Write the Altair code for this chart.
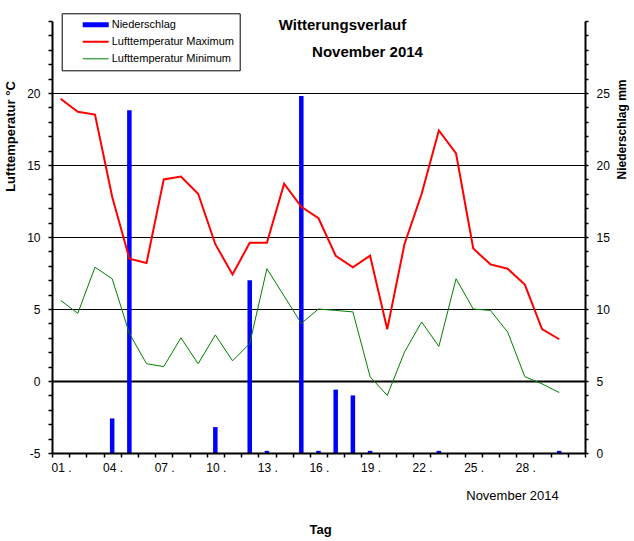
import altair as alt
import pandas as pd

# ---------------- data ----------------
days = list(range(1, 31))
t_max = [19.6, 18.7, 18.5, 12.8, 8.5, 8.2, 14.0, 14.2, 13.0, 9.5,
         7.4, 9.6, 9.6, 13.7, 12.1, 11.3, 8.7, 7.9, 8.7, 3.6,
         9.5, 13.0, 17.4, 15.8, 9.2, 8.1, 7.8, 6.7, 3.6, 2.9]
t_min = [5.6, 4.7, 7.9, 7.1, 3.3, 1.2, 1.0, 3.0, 1.2, 3.2,
         1.4, 2.6, 7.8, 5.9, 4.0, 5.0, 4.9, 4.8, 0.3, -1.0,
         2.0, 4.1, 2.4, 7.1, 5.0, 4.9, 3.4, 0.3, -0.2, -0.8]
precip = [0, 0, 0, 2.4, 23.8, 0, 0, 0, 0, 1.8,
          0, 12.0, 0.15, 0, 24.8, 0.15, 4.4, 4.0, 0.15, 0,
          0, 0, 0.15, 0, 0, 0, 0, 0, 0, 0.15]

series_names = ["Niederschlag", "Lufttemperatur Maximum", "Lufttemperatur Minimum"]
series_colors = ["#0000FF", "#FF0000", "#008000"]
series_widths = [5, 2, 1]

temp_ticks = list(range(-5, 26))
mm_ticks = list(range(0, 31))
day_ticks = list(range(0, 32))

FONT = "Liberation Sans"

df_bar = pd.DataFrame({"Tag": days, "mm": precip})
df_lines = pd.DataFrame({
    "Tag": days + days,
    "value": t_max + t_min,
    "series": [series_names[1]] * len(days) + [series_names[2]] * len(days),
})

xscale = alt.Scale(domain=[0, 31], nice=False, zero=False, padding=0)

x_axis = alt.Axis(
    values=day_ticks,
    labelExpr="(datum.value % 3 == 0 && datum.value < 30) ? ((datum.value < 9 ? '0' : '') + (datum.value + 1) + ' .') : ''",
    labelAlign="left", labelBaseline="top", labelPadding=5, labelOffset=-1,
    labelFont=FONT, labelFontSize=12, labelColor="black",
    labelOverlap=False, labelFlush=False, labelBound=False,
    tickSize=4, tickWidth=1.5, tickColor="black",
    domainColor="black", domainWidth=2, grid=False,
    title="Tag", titleX=268, titleY=76, titleAlign="center", titleBaseline="middle",
    titleFont=FONT, titleFontSize=13, titleFontWeight="bold", titleColor="black",
    zindex=1,
)

yl_axis = alt.Axis(
    orient="left", values=temp_ticks,
    labelExpr="(datum.value % 5 == 0 && datum.value < 25) ? ('' + datum.value) : ''",
    labelPadding=8, labelFont=FONT, labelFontSize=12, labelColor="black",
    labelOverlap=False, labelBound=False, labelFlush=False,
    tickSize=4, tickWidth=1.5, tickColor="black",
    domainColor="black", domainWidth=2,
    grid=True, gridColor="black",
    gridOpacity={"condition": {"test": "datum.value % 5 == 0 && datum.value > -5 && datum.value < 25", "value": 1}, "value": 0},
    gridWidth={"condition": {"test": "datum.value == 0", "value": 2}, "value": 1},
    title="Lufttemperatur °C", titleAngle=270, titleX=-42, titleY=115,
    titleAlign="center", titleBaseline="middle",
    titleFont=FONT, titleFontSize=13, titleFontWeight="bold", titleColor="black",
)

yr_axis = alt.Axis(
    orient="right", values=mm_ticks,
    labelExpr="(datum.value % 5 == 0 && datum.value < 30) ? ('' + datum.value) : ''",
    labelPadding=8, labelFont=FONT, labelFontSize=12, labelColor="black",
    labelOverlap=False, labelBound=False, labelFlush=False,
    tickSize=3, tickWidth=1.5, tickColor="black",
    domainColor="black", domainWidth=2, grid=False,
    title="Niederschlag  mm", titleAngle=270, titleX=36, titleY=108,
    titleAlign="center", titleBaseline="middle",
    titleFont=FONT, titleFontSize=12, titleFontWeight="bold", titleColor="black",
)

leg = alt.Legend(
    title=None, orient="none", legendX=9.7, legendY=-7.7, direction="vertical",
    symbolType="M-2,0H2", symbolSize=169, clipHeight=13,
    symbolOffset=20, labelOffset=7,
    labelFont=FONT, labelFontSize=11, labelColor="black",
    padding=5, rowPadding=4,
    strokeColor="black", fillColor="white", cornerRadius=0,
)

bars = alt.Chart(df_bar).transform_calculate(
    xpos="datum.Tag - 0.5"
).mark_bar(color="#0000FF", size=4.5).encode(
    x=alt.X("xpos:Q", scale=xscale, axis=x_axis),
    y=alt.Y("mm:Q", scale=alt.Scale(domain=[0, 30], nice=False, zero=True), axis=yr_axis),
    y2=alt.datum(0),
)

lines = alt.Chart(df_lines).transform_calculate(
    xpos="datum.Tag - 0.5"
).mark_line().encode(
    x=alt.X("xpos:Q", scale=xscale, axis=x_axis),
    y=alt.Y("value:Q", scale=alt.Scale(domain=[-5, 25], nice=False, zero=False), axis=yl_axis),
    color=alt.Color("series:N", scale=alt.Scale(domain=series_names, range=series_colors), legend=leg),
    strokeWidth=alt.StrokeWidth("series:N", scale=alt.Scale(type="ordinal", domain=series_names, range=series_widths), legend=leg),
)


def label(txt, x, y, size, weight="normal"):
    return alt.Chart(alt.Data(values=[{}])).mark_text(
        font=FONT, fontSize=size, fontWeight=weight, align="center",
        baseline="middle", color="black",
    ).encode(x=alt.value(x), y=alt.value(y), text=alt.value(txt))


t1 = label("Witterungsverlauf", 290.5, 4, 15, "bold")
t2 = label("November 2014", 315.5, 30.7, 15, "bold")
t3 = label("November 2014", 460.5, 475, 13)

chart = alt.layer(bars, lines, t1, t2, t3).resolve_scale(y="independent").properties(
    width=533, height=432,
    autosize=alt.AutoSizeParams(type="none"),
    padding={"left": 52, "top": 21, "right": 49, "bottom": 88},
    background="white",
).configure_view(stroke=None)

chart.save("out.html", embed_options={"renderer": "svg", "actions": False})
